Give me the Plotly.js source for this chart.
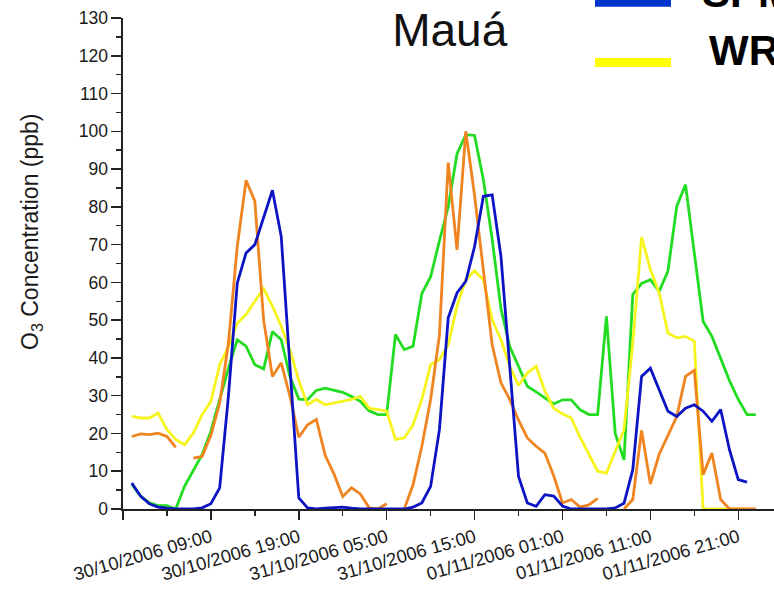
<!DOCTYPE html>
<html>
<head>
<meta charset="utf-8">
<script src="https://cdn.plot.ly/plotly-3.0.1.min.js"></script>
<style>
html,body{margin:0;padding:0;overflow:hidden;background:#fff;width:774px;height:595px;}
#chart{position:absolute;left:0;top:0;width:810px;height:595px;}
</style>
</head>
<body>
<div id="chart"></div>
<script>
// ---- data (hourly, starting 30/10/2006 00:00) ----
const startTime = Date.UTC(2006, 9, 30, 0, 0);
const nHours = 72;

const orange = [19.2,19.9,19.7,20.1,19.2,16.3,null,13.5,13.9,19.5,
  28,44,69.5,87,81.5,50,35.1,38.7,29.8,19,
  22.3,23.7,14.2,9.3,3.3,5.6,4,0.3,0,1.4,
  null,0,6.4,16.6,29,46,91.7,68.6,100,83,
  62.5,43.5,33.4,29,23.5,18.8,16.6,14.8,8.8,1.6,
  2.5,0.5,1.1,2.8,null,null,0,2.5,20.8,6.6,
  14.5,19.5,24.5,35.1,36.7,9.1,14.8,2.5,0,0,
  0,0];

const blue = [6.9,3.4,1.4,0.5,0.2,0,0,0,0.3,1.4,
  5.6,30,59.8,67.8,70,77,84.4,72.2,38.7,2.9,
  0.3,0,0.2,0.4,0.5,0.2,0,0,0,0,
  0,0,0.5,1.6,6,21,50.6,57.2,60.3,69.5,
  82.8,83.2,66.9,37.8,8.6,1.6,0.7,3.8,3.4,0.8,
  0,0,0,0,0,0.3,1.5,10.4,35.1,37.3,
  31.5,25.9,24.5,26.7,27.6,25.9,23.2,26.3,15.7,7.8,
  7.1,null];

const green = [6.6,3.4,1.6,0.9,0.9,0,6,10.4,14.4,20.6,
  29,37.3,44.8,43.1,38.2,37.1,47,44.8,35,29.1,
  29,31.4,32,31.4,30.9,29.8,28.5,26,25,25,
  46.2,42.2,43.1,57,61.5,71,80,94,99.1,98.9,
  87.2,71.5,53,43,37.5,32.5,31,29.5,27.8,28.9,
  28.9,26.3,25,25,51,20,13,56.8,59.7,60.7,
  57.6,63,80.1,85.9,67.8,49.7,45.7,40,34,29,
  25,25];

const yellow = [24.5,24.1,24.1,25.4,21,18.4,17,20.1,25,28.5,
  38.2,43,49.2,51.5,55,58.3,53.7,48.4,42,34,
  27.6,29,27.6,28,28.5,29,29.8,26.7,26.3,25.9,
  18.4,18.8,22.3,29,38.2,39.5,43.5,53.7,60.7,63.1,
  60.7,50.1,44.8,37.8,32.7,36,37.8,31.2,26.7,25.2,
  24.1,19,14.5,10,9.5,15.5,21,44,72,63.4,
  57.2,46.6,45.3,45.7,44.4,0,0,0,0,0,
  0,null];

const tickDates = ['2006-10-29 23:00','2006-10-30 09:00','2006-10-30 19:00','2006-10-31 05:00',
  '2006-10-31 15:00','2006-11-01 01:00','2006-11-01 11:00','2006-11-01 21:00'];
const tickLabels = [' ','30/10/2006 09:00','30/10/2006 19:00','31/10/2006 05:00',
  '31/10/2006 15:00','01/11/2006 01:00','01/11/2006 11:00','01/11/2006 21:00'];

const titleText = 'Mauá';
const yTitleText = 'O<sub>3</sub> Concentration (ppb)';
const legendNames = ['SPM-BRAMS', 'WRF/Chem'];

// ---- build ----
const times = [];
for (let i = 0; i < nHours; i++) {
  times.push(new Date(startTime + i * 3600000).toISOString().slice(0, 16).replace('T', ' '));
}

const font = 'Arial, "Liberation Sans", Helvetica, sans-serif';
function tr(y, color, name) {
  return {x: times, y: y, type: 'scatter', mode: 'lines', name: name,
    connectgaps: false, line: {color: color, width: 2.8}, hoverinfo: 'skip'};
}
const data = [
  tr(green, '#22dc22', 'green'),
  tr(yellow, '#f6f41c', legendNames[1]),
  tr(orange, '#ef8420', 'orange'),
  tr(blue, '#0c14c4', legendNames[0])
];

const pw = 668, ph = 491, ml = 123, mt = 18;
function px(x) { return (x - ml) / pw; }
function py(y) { return (mt + ph - y) / ph; }

const layout = {
  width: 810, height: 595,
  margin: {l: ml, r: 810 - ml - pw, t: mt, b: 595 - mt - ph},
  paper_bgcolor: '#fff', plot_bgcolor: '#fff',
  showlegend: false,
  font: {family: font, color: '#1a1a1a'},
  title: {text: titleText, font: {family: font, size: 46, color: '#111'},
    xref: 'paper', x: px(449.7), xanchor: 'center', yref: 'container', y: 1 - 30 / 595, yanchor: 'middle'},
  xaxis: {
    type: 'date', range: ['2006-10-29 23:00', '2006-11-02 03:00'],
    tickmode: 'array', tickvals: tickDates, ticktext: tickLabels, tickangle: -16,
    ticks: 'outside', ticklen: 9, tickwidth: 1.5, tickcolor: '#222',
    tickfont: {family: font, size: 18.4, color: '#1a1a1a'},
    minor: {tickmode: 'linear', tick0: '2006-10-29 23:00', dtick: 5 * 3600000, ticks: 'outside', ticklen: 5, tickwidth: 1.5, tickcolor: '#222'},
    showline: true, linecolor: '#222', linewidth: 1.6, showgrid: false, zeroline: false,
    fixedrange: true
  },
  yaxis: {
    range: [0, 130], tickmode: 'linear', tick0: 0, dtick: 10,
    ticks: 'outside', ticklen: 10, tickwidth: 1.5, tickcolor: '#222',
    tickfont: {family: font, size: 17.5, color: '#1a1a1a'},
    minor: {tickmode: 'linear', tick0: 0, dtick: 5, ticks: 'outside', ticklen: 5, tickwidth: 1.5, tickcolor: '#222'},
    showline: true, linecolor: '#222', linewidth: 1.6, showgrid: false, zeroline: false,
    fixedrange: true
  },
  shapes: [
    {type: 'rect', xref: 'paper', yref: 'paper', x0: px(595), x1: px(671), y0: py(6.7), y1: py(-3), fillcolor: '#0033cc', line: {width: 0}},
    {type: 'rect', xref: 'paper', yref: 'paper', x0: px(595), x1: px(671), y0: py(67), y1: py(58), fillcolor: '#ffff00', line: {width: 0}}
  ],
  annotations: [
    {text: yTitleText, xref: 'paper', yref: 'paper', x: px(31), y: py(232), textangle: -90,
      xanchor: 'center', yanchor: 'middle', showarrow: false, font: {family: font, size: 23, color: '#1a1a1a'}},
    {text: '<b>' + legendNames[0] + '</b>', xref: 'paper', yref: 'paper', x: px(700), y: py(-7),
      xanchor: 'left', yanchor: 'middle', showarrow: false, font: {family: font, size: 42, color: '#000'}},
    {text: '<b>' + legendNames[1] + '</b>', xref: 'paper', yref: 'paper', x: px(707), y: py(50),
      xanchor: 'left', yanchor: 'middle', showarrow: false, font: {family: font, size: 42, color: '#000'}}
  ]
};

Plotly.newPlot('chart', data, layout, {staticPlot: true, displayModeBar: false});
</script>
</body>
</html>
